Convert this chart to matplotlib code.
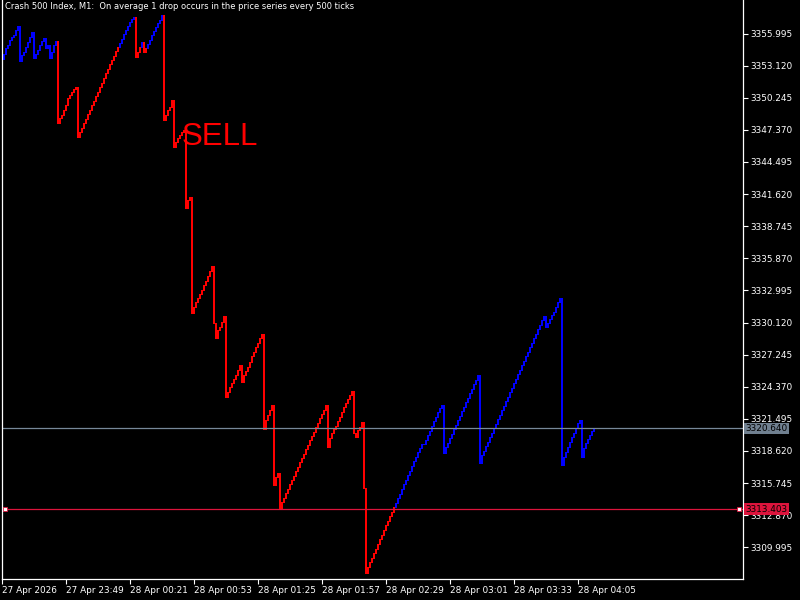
import numpy as np
import matplotlib
matplotlib.use('Agg')
import matplotlib.pyplot as plt
import matplotlib.transforms as mtransforms

# Crash 500 Index, M1 bars (close of every minute bar, first bar at 27 Apr 23:18)
first_open = 3353.71
closes = [
    3354.16, 3354.70, 3354.97, 3355.41, 3355.68, 3355.86, 3356.31, 3356.67, 3353.53, 3354.07,
    3354.34, 3354.79, 3355.24, 3355.68, 3356.13, 3353.80, 3354.16, 3354.52, 3354.97, 3355.32,
    3355.59, 3354.70, 3354.97, 3353.80, 3354.34, 3354.97, 3355.32, 3347.98, 3348.43, 3348.70,
    3349.15, 3349.60, 3350.22, 3350.49, 3350.76, 3351.03, 3351.21, 3346.73, 3347.18, 3347.54,
    3347.98, 3348.34, 3348.79, 3349.15, 3349.60, 3349.95, 3350.40, 3350.76, 3351.21, 3351.56,
    3352.01, 3352.46, 3352.82, 3353.27, 3353.62, 3353.98, 3354.43, 3354.79, 3355.15, 3355.50,
    3355.95, 3356.31, 3356.67, 3357.03, 3357.29, 3357.47, 3353.89, 3354.34, 3354.79, 3355.24,
    3354.34, 3354.70, 3355.06, 3355.41, 3355.86, 3356.22, 3356.58, 3356.94, 3357.20, 3357.65,
    3348.25, 3348.70, 3349.15, 3349.42, 3350.04, 3345.83, 3346.28, 3346.64, 3346.91, 3347.18,
    3347.36, 3340.37, 3341.09, 3341.36, 3330.97, 3331.51, 3331.96, 3332.32, 3332.67, 3333.03,
    3333.48, 3333.84, 3334.29, 3334.73, 3335.18, 3330.08, 3328.74, 3329.45, 3329.72, 3330.17,
    3330.71, 3323.45, 3323.90, 3324.35, 3324.71, 3325.07, 3325.42, 3325.87, 3326.32, 3324.80,
    3325.42, 3325.78, 3326.14, 3326.59, 3327.12, 3327.48, 3327.93, 3328.29, 3328.74, 3329.09,
    3320.59, 3321.39, 3321.84, 3322.29, 3322.74, 3315.58, 3316.29, 3316.65, 3313.43, 3314.05,
    3314.41, 3314.86, 3315.22, 3315.66, 3316.02, 3316.38, 3316.83, 3317.19, 3317.63, 3317.99,
    3318.35, 3318.80, 3319.16, 3319.60, 3319.96, 3320.32, 3320.77, 3321.13, 3321.57, 3321.93,
    3322.29, 3322.74, 3318.98, 3319.78, 3320.23, 3320.59, 3320.86, 3321.31, 3321.66, 3322.11,
    3322.56, 3322.92, 3323.27, 3323.63, 3323.99, 3320.23, 3319.87, 3320.50, 3320.77, 3321.22,
    3315.31, 3307.70, 3308.23, 3308.68, 3309.04, 3309.49, 3309.85, 3310.29, 3310.74, 3311.10,
    3311.55, 3311.99, 3312.35, 3312.80, 3313.16, 3313.61, 3313.96, 3314.41, 3314.77, 3315.22,
    3315.66, 3316.02, 3316.47, 3316.83, 3317.28, 3317.72, 3318.08, 3318.53, 3318.89, 3319.25,
    3319.25, 3319.60, 3320.05, 3320.41, 3320.86, 3321.31, 3321.66, 3322.11, 3322.47, 3322.74,
    3318.44, 3318.98, 3319.34, 3319.78, 3320.14, 3320.59, 3320.95, 3321.39, 3321.75, 3322.20,
    3322.56, 3323.01, 3323.36, 3323.81, 3324.17, 3324.62, 3324.98, 3325.42, 3317.54, 3318.26,
    3318.62, 3319.07, 3319.43, 3319.87, 3320.23, 3320.68, 3321.04, 3321.48, 3321.84, 3322.29,
    3322.65, 3323.10, 3323.45, 3323.90, 3324.26, 3324.71, 3325.07, 3325.51, 3325.87, 3326.32,
    3326.68, 3327.12, 3327.48, 3327.93, 3328.29, 3328.74, 3329.09, 3329.54, 3329.90, 3330.35,
    3330.71, 3329.72, 3330.08, 3330.44, 3330.79, 3331.06, 3331.51, 3331.96, 3332.32, 3317.37,
    3318.08, 3318.53, 3318.98, 3319.43, 3319.87, 3320.23, 3320.68, 3321.13, 3321.39, 3318.08,
    3318.89, 3319.34, 3319.69, 3320.05, 3320.41, 3320.64,
]
# indicator state per run of bars
signal_runs = [(27, 'buy'), (31, 'sell'), (8, 'buy'), (3, 'sell'), (1, 'buy'), (2, 'sell'),
               (8, 'buy'), (116, 'sell'), (100, 'buy')]

bid_price = 3320.640
order_price = 3313.403

time_labels = ['27 Apr 2026', '27 Apr 23:49', '28 Apr 00:21', '28 Apr 00:53', '28 Apr 01:25',
               '28 Apr 01:57', '28 Apr 02:29', '28 Apr 03:01', '28 Apr 03:33', '28 Apr 04:05']
time_ticks = [0, 32, 64, 96, 128, 160, 192, 224, 256, 288]   # minutes from 27 Apr 23:17
price_ticks = [3355.995 - 2.875 * k for k in range(17)]

title = 'Crash 500 Index, M1:  On average 1 drop occurs in the price series every 500 ticks'

closes = np.array(closes)
opens = np.concatenate([[first_open], closes[:-1]])
minutes = np.arange(1, len(closes) + 1)
signal = []
for n, s in signal_runs:
    signal += [s] * n
colors = ['#0000ff' if s == 'buy' else '#ff0000' for s in signal]

plt.rcParams['font.family'] = ['DejaVu Sans']
fig = plt.figure(figsize=(8, 6), dpi=100, facecolor='black')
ax = fig.add_axes([2 / 800, 21 / 600, 741 / 800, 579 / 600])
ax.set_facecolor('black')

# bar chart: each minute bar drawn as a vertical stroke
ax.vlines(minutes, np.minimum(opens, closes) - 0.06, np.maximum(opens, closes),
          colors=colors, linewidth=1.2, antialiased=False)

ax.axhline(bid_price, color='#778899', linewidth=0.9)
ax.axhline(order_price, color='#dc143c', linewidth=0.9)
trans = mtransforms.blended_transform_factory(ax.transAxes, ax.transData)
ax.plot([0.004, 0.995], [order_price, order_price], 's', ms=3, mfc='white', mec='#dc143c',
        mew=0.6, transform=trans, clip_on=False)

ax.set_xlim(0, 370.5)
ax.set_ylim(3307.16, 3358.995)

ax.yaxis.tick_right()
ax.set_yticks(price_ticks)
ax.set_yticklabels(['%.3f' % p for p in price_ticks])
ax.set_xticks(time_ticks)
ax.set_xticklabels(time_labels, ha='left')
ax.tick_params(axis='both', colors='white', labelsize=6.4, length=3.5, width=0.8, pad=1.5)
for sp in ['left', 'right', 'bottom']:
    ax.spines[sp].set_color('white')
    ax.spines[sp].set_linewidth(0.9)
ax.spines['top'].set_visible(False)

for price, bg in [(bid_price, '#708090'), (order_price, '#dc143c')]:
    ax.text(1.003, price, '%.3f' % price, transform=trans, color='black', fontsize=6.4,
            va='center', ha='left', clip_on=False, zorder=5,
            bbox=dict(boxstyle='square,pad=0.15', fc=bg, ec='none'))

ax.text(0.004, 0.997, title, transform=ax.transAxes, color='white', fontsize=6.0,
        va='top', ha='left')
ax.text(90, 3346.01, 'SELL', color='#ff0000', fontsize=22.5, family='Liberation Sans',
        va='baseline', ha='left')

plt.savefig('out.png', dpi=100, facecolor='black')
plt.close()
